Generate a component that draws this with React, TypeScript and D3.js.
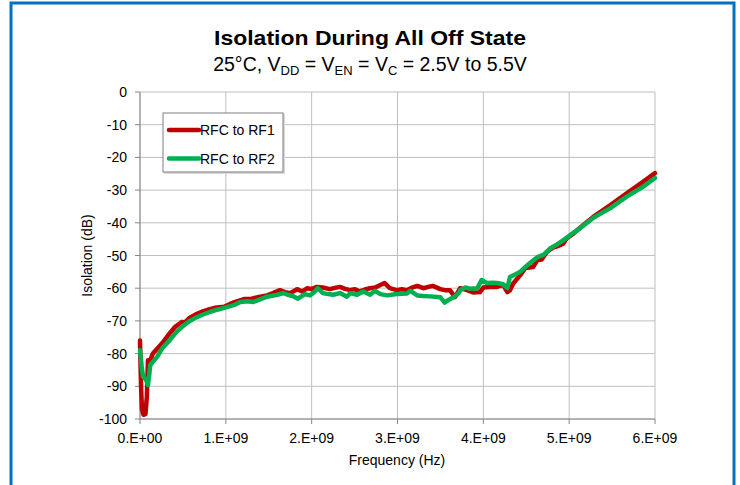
import React from 'react';
import * as d3 from 'd3';

// frequency in GHz, isolation in dB
const rf1Freq = [0, 0.012, 0.023, 0.04, 0.064, 0.08, 0.093, 0.12, 0.15, 0.2, 0.26, 0.33, 0.41, 0.49, 0.52, 0.58, 0.65, 0.72, 0.79, 0.87, 0.98, 1.05, 1.11, 1.22, 1.3, 1.4, 1.48, 1.55, 1.63, 1.69, 1.75, 1.83, 1.89, 1.95, 2.0, 2.06, 2.13, 2.21, 2.27, 2.33, 2.39, 2.45, 2.5, 2.56, 2.62, 2.68, 2.74, 2.8, 2.85, 2.91, 2.99, 3.05, 3.11, 3.17, 3.23, 3.3, 3.36, 3.41, 3.5, 3.55, 3.61, 3.67, 3.73, 3.81, 3.88, 3.96, 4.0, 4.08, 4.16, 4.23, 4.28, 4.31, 4.35, 4.43, 4.49, 4.58, 4.63, 4.68, 4.74, 4.81, 4.86, 4.93, 4.97, 5.04, 5.13, 5.28, 5.48, 5.67, 5.86, 6.0];
const rf1Iso = [-76, -90, -97, -98.7, -98.5, -93, -82, -82, -80, -78.5, -76.8, -74.3, -71.8, -70.3, -70.5, -69, -68, -67.2, -66.6, -66, -65.7, -64.8, -64.2, -63.3, -63.2, -62.6, -62.2, -61.5, -60.6, -61.2, -61.5, -60.3, -61, -60, -60.3, -59.6, -59.8, -60.3, -59.9, -59.6, -60.2, -60.6, -60.3, -61, -60.4, -60, -59.8, -59, -58.4, -60, -60.6, -60.3, -60.6, -59.8, -59.3, -60, -59.6, -59.3, -60.3, -60.6, -60.6, -62.7, -60, -60.6, -61.3, -61.2, -59.8, -59.6, -59.6, -59, -61.2, -60.6, -58.5, -56, -53.8, -53.5, -51.4, -51.2, -48.9, -47.6, -47.2, -46.4, -44.8, -43.5, -41.4, -38.2, -34.6, -31, -27.5, -24.8];

const rf2Freq = [0, 0.02, 0.035, 0.07, 0.093, 0.105, 0.12, 0.15, 0.2, 0.26, 0.35, 0.42, 0.49, 0.58, 0.65, 0.72, 0.82, 0.91, 0.98, 1.05, 1.11, 1.17, 1.25, 1.32, 1.4, 1.48, 1.6, 1.67, 1.72, 1.78, 1.84, 1.92, 1.98, 2.03, 2.07, 2.13, 2.19, 2.25, 2.33, 2.41, 2.45, 2.53, 2.6, 2.68, 2.74, 2.8, 2.88, 2.99, 3.11, 3.15, 3.23, 3.3, 3.38, 3.5, 3.55, 3.6, 3.65, 3.71, 3.73, 3.79, 3.85, 3.93, 3.98, 4.04, 4.11, 4.16, 4.23, 4.28, 4.31, 4.37, 4.43, 4.49, 4.54, 4.63, 4.7, 4.78, 4.86, 4.92, 4.97, 5.04, 5.13, 5.28, 5.48, 5.67, 5.86, 6.0];
const rf2Iso = [-79, -84, -87, -88, -89.6, -87, -83.5, -82.5, -81, -78.3, -75.8, -73.5, -71.8, -70, -69, -68.2, -67.2, -66.5, -66, -65.5, -65, -64.2, -64, -64.2, -63.4, -62.6, -62, -61.5, -62, -62.4, -63.2, -61.8, -62.2, -61.2, -60, -61.5, -61.8, -62, -61.5, -62.6, -61.5, -62, -61, -62, -60.8, -61.8, -62.2, -61.8, -61.6, -60.8, -62.2, -62.4, -62.5, -62.8, -64.4, -63.5, -62.8, -61.6, -60.6, -59.8, -60.2, -60, -57.5, -58.4, -58.3, -58.4, -58.8, -60, -56.6, -55.8, -55, -53.5, -52.4, -50.5, -49.8, -47.8, -46.6, -45.5, -44.6, -43.2, -41.6, -38.5, -35.5, -32, -29, -26.3];

const xTicks = [0, 1, 2, 3, 4, 5, 6];
const xTickLabels = ['0.E+00', '1.E+09', '2.E+09', '3.E+09', '4.E+09', '5.E+09', '6.E+09'];
const yTicks = [0, -10, -20, -30, -40, -50, -60, -70, -80, -90, -100];

const seriesNames = ['RFC to RF1', 'RFC to RF2'];
const seriesColors = ['#C00000', '#00B050'];

const W = 740;
const H = 485;
const FONT = '"Liberation Sans", Arial, sans-serif';

export default function App() {
  const plot = { left: 140, right: 655, top: 92, bottom: 419 };

  const x = d3.scaleLinear().domain([0, 6]).range([plot.left, plot.right]);
  const y = d3.scaleLinear().domain([-100, 0]).range([plot.bottom, plot.top]);

  const line = d3
    .line<[number, number]>()
    .x(d => x(d[0]))
    .y(d => y(d[1]))
    .curve(d3.curveLinear);

  const series = [
    d3.zip(rf1Freq, rf1Iso) as [number, number][],
    d3.zip(rf2Freq, rf2Iso) as [number, number][],
  ];

  return (
    <svg
      width={W}
      height={H}
      style={{ position: 'absolute', left: 0, top: 0, background: '#fff' }}
      fontFamily={FONT}
    >
      <rect x={0} y={0} width={W} height={H} fill="#fff" />
      {/* blue frame */}
      <rect x={11} y={3} width={723} height={H + 10} fill="none" stroke="#0070C0" strokeWidth={3} />

      {/* titles */}
      <text x={370} y={45} textAnchor="middle" fontSize={21} fontWeight="bold" fill="#000"
        textLength={312} lengthAdjust="spacingAndGlyphs">
        Isolation During All Off State
      </text>
      <text x={370} y={71} textAnchor="middle" fontSize={19.5} fill="#000">
        25°C, V<tspan fontSize={13} dy={4}>DD</tspan>
        <tspan dy={-4}> = V</tspan><tspan fontSize={13} dy={4}>EN</tspan>
        <tspan dy={-4}> = V</tspan><tspan fontSize={13} dy={4}>C</tspan>
        <tspan dy={-4}> = 2.5V to 5.5V</tspan>
      </text>

      {/* grid */}
      {yTicks.map(t => (
        <line key={'gy' + t} x1={plot.left} x2={plot.right} y1={y(t)} y2={y(t)} stroke="#BFBFBF" strokeWidth={1} />
      ))}
      {xTicks.map(t => (
        <line key={'gx' + t} x1={x(t)} x2={x(t)} y1={plot.top} y2={plot.bottom} stroke="#BFBFBF" strokeWidth={1} />
      ))}

      {/* axes */}
      <line x1={plot.left} x2={plot.left} y1={plot.top} y2={plot.bottom} stroke="#868686" />
      <line x1={plot.left} x2={plot.right} y1={plot.bottom} y2={plot.bottom} stroke="#868686" />
      {yTicks.map(t => (
        <g key={'ty' + t}>
          <line x1={plot.left - 5} x2={plot.left} y1={y(t)} y2={y(t)} stroke="#868686" />
          <text x={127} y={y(t) + 5} textAnchor="end" fontSize={14} fill="#000">{t}</text>
        </g>
      ))}
      {xTicks.map((t, i) => (
        <g key={'tx' + t}>
          <line x1={x(t)} x2={x(t)} y1={plot.bottom} y2={plot.bottom + 5} stroke="#868686" />
          <text x={x(t)} y={443} textAnchor="middle" fontSize={14} fill="#000">{xTickLabels[i]}</text>
        </g>
      ))}
      <text x={397} y={465} textAnchor="middle" fontSize={14} fill="#000">Frequency (Hz)</text>
      <text transform={`translate(92,${(plot.top + plot.bottom) / 2}) rotate(-90)`} textAnchor="middle" fontSize={14} fill="#000">
        Isolation (dB)
      </text>

      {/* series */}
      {series.map((s, i) => (
        <path key={'s' + i} d={line(s) || ''} fill="none" stroke={seriesColors[i]} strokeWidth={4.5}
          strokeLinejoin="round" strokeLinecap="round" />
      ))}

      {/* legend */}
      <rect x={164} y={114} width={121} height={60} fill="#D9D9D9" />
      <rect x={163} y={113} width={120} height={59} fill="#fff" stroke="#7F7F7F" strokeWidth={1} />
      {seriesNames.map((n, i) => (
        <g key={'lg' + i}>
          <line x1={169} x2={199} y1={130 + i * 28.5} y2={130 + i * 28.5} stroke={seriesColors[i]} strokeWidth={4.5} strokeLinecap="round" />
          <text x={200} y={135 + i * 28.5} fontSize={14} fill="#000">{n}</text>
        </g>
      ))}
    </svg>
  );
}
